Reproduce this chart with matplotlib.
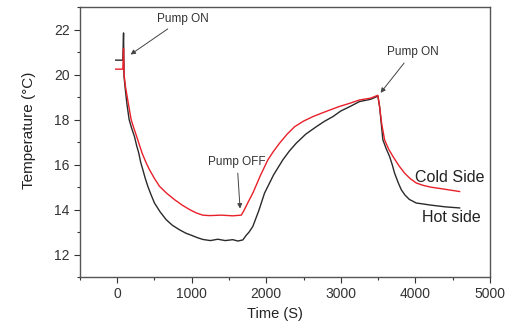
import matplotlib
matplotlib.use("Agg")
import matplotlib.pyplot as plt

plt.rcParams["font.family"] = ["Liberation Sans", "DejaVu Sans"]

# Hot side (black) - time in s, temperature in degC
hot_time = [-20, 75, 85, 92, 110, 130, 160, 195, 232, 260, 290, 315, 344, 375, 411,
            455, 500, 575, 657, 740, 836, 920, 1000, 1075, 1149, 1250, 1350, 1450,
            1550, 1620, 1686, 1730, 1770, 1820, 1900, 1977, 2100, 2223, 2310, 2403,
            2530, 2671, 2780, 2894, 3000, 3118, 3252, 3400, 3498, 3521, 3543, 3565,
            3610, 3655, 3690, 3722, 3770, 3812, 3860, 3920, 4013, 4100, 4200, 4400,
            4595]
hot_temp = [20.64, 20.64, 21.85, 19.9, 19.3, 18.7, 18.0, 17.6, 17.24, 16.85, 16.5,
            16.1, 15.77, 15.4, 15.03, 14.65, 14.29, 13.9, 13.55, 13.3, 13.1, 12.95,
            12.85, 12.75, 12.67, 12.62, 12.68, 12.62, 12.66, 12.6, 12.65, 12.85, 13.0,
            13.25, 13.95, 14.73, 15.55, 16.21, 16.6, 16.95, 17.35, 17.68, 17.92, 18.13,
            18.38, 18.57, 18.8, 18.9, 19.04, 18.57, 17.83, 17.1, 16.7, 16.36, 16.0,
            15.62, 15.2, 14.88, 14.65, 14.45, 14.29, 14.25, 14.2, 14.12, 14.07]

# Cold side (red)
cold_time = [-20, 75, 85, 92, 111, 150, 188, 225, 262, 300, 335, 385, 433, 500, 568,
             665, 769, 870, 970, 1060, 1148, 1239, 1400, 1550, 1664, 1700, 1760, 1820,
             1920, 2022, 2100, 2179, 2280, 2380, 2500, 2626, 2740, 2850, 2980, 3118,
             3252, 3400, 3498, 3520, 3550, 3588, 3640, 3700, 3780, 3856, 3930, 4013,
             4100, 4200, 4400, 4595]
cold_temp = [20.24, 20.24, 21.16, 20.0, 19.46, 18.7, 17.98, 17.6, 17.24, 16.85, 16.5,
             16.1, 15.77, 15.38, 15.03, 14.72, 14.44, 14.2, 14.0, 13.85, 13.75, 13.73,
             13.75, 13.72, 13.75, 13.95, 14.35, 14.73, 15.5, 16.21, 16.6, 16.95, 17.35,
             17.68, 17.93, 18.13, 18.28, 18.42, 18.58, 18.72, 18.87, 18.95, 19.08, 18.6,
             17.8, 17.1, 16.7, 16.36, 15.95, 15.62, 15.38, 15.18, 15.08, 15.0, 14.9,
             14.8]

fig = plt.figure(figsize=(5.06, 3.21), dpi=100)
ax = fig.add_axes([0.158, 0.137, 0.81, 0.841])

ax.plot(hot_time, hot_temp, color="#2a2a2a", lw=1.0)
ax.plot(cold_time, cold_temp, color="#e8202a", lw=1.0)

ax.set_xlim(-500, 5000)
ax.set_ylim(11, 23)
ax.set_xticks([0, 1000, 2000, 3000, 4000, 5000])
ax.set_xticks(range(-500, 5001, 500), minor=True)
ax.set_yticks([12, 14, 16, 18, 20, 22])
ax.set_yticks(range(11, 24), minor=True)
ax.tick_params(which="major", direction="out", length=4, labelsize=10,
               colors="#333333", width=0.8)
ax.tick_params(which="minor", direction="out", length=2.5, colors="#333333", width=0.8)
for s in ax.spines.values():
    s.set_color("#555555")
    s.set_linewidth(1.0)

ax.set_xlabel("Time (S)", fontsize=10.5, color="#222222")
ax.set_ylabel("Temperature (°C)", fontsize=11, color="#222222")
ax.xaxis.set_label_coords(0.476, -0.11)
ax.yaxis.set_label_coords(-0.108, 0.544)

arrow = dict(arrowstyle="-|>", color="#444444", lw=0.7, mutation_scale=7)
ax.annotate("Pump ON", xy=(148, 20.82), xytext=(880, 22.49), fontsize=8.5,
            color="#333333", ha="center", va="center", arrowprops=arrow)
ax.annotate("Pump OFF", xy=(1651, 13.92), xytext=(1608, 16.13), fontsize=8.5,
            color="#333333", ha="center", va="center", arrowprops=arrow)
ax.annotate("Pump ON", xy=(3511, 19.09), xytext=(3966, 21.0), fontsize=8.5,
            color="#333333", ha="center", va="center", arrowprops=arrow)

ax.text(4463, 15.43, "Cold Side", fontsize=11.5, color="#222222", ha="center", va="center")
ax.text(4480, 13.63, "Hot side", fontsize=11.5, color="#222222", ha="center", va="center")

fig.savefig("out.png", dpi=100)
